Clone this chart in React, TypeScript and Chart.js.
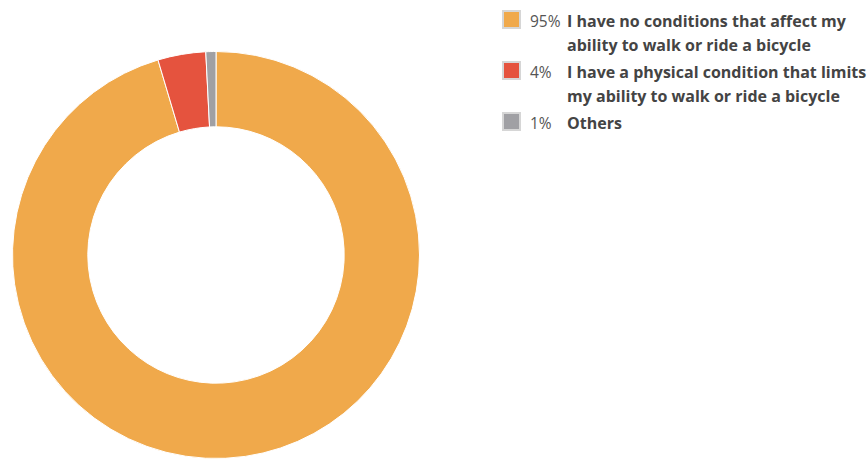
import React, { useEffect, useRef } from "react";
import { Chart, registerables } from "chart.js";

Chart.register(...registerables);

const categories = [
  "I have no conditions that affect my ability to walk or ride a bicycle",
  "I have a physical condition that limits my ability to walk or ride a bicycle",
  "Others",
];
const values = [95.4, 3.8, 0.8];
const percentLabels = ["95%", "4%", "1%"];
const colors = ["#F0A94B", "#E5533E", "#A0A0A4"];

export default function App() {
  const ref = useRef<HTMLCanvasElement | null>(null);

  useEffect(() => {
    if (!ref.current) return;
    const chart = new Chart(ref.current, {
      type: "doughnut",
      data: {
        labels: categories,
        datasets: [
          {
            data: values,
            backgroundColor: colors,
            borderColor: "#ffffff",
            borderWidth: 1,
          },
        ],
      },
      options: {
        responsive: false,
        maintainAspectRatio: false,
        animation: false,
        cutout: "63%",
        layout: { padding: 0 },
        plugins: {
          legend: { display: false },
          tooltip: { enabled: false },
        },
      },
    });
    return () => chart.destroy();
  }, []);

  return (
    <div
      style={{
        position: "fixed",
        left: 0,
        top: 0,
        width: 868,
        height: 462,
        background: "#fff",
        fontFamily: "'Open Sans', sans-serif",
      }}
    >
      <canvas
        ref={ref}
        width={408}
        height={408}
        style={{ position: "absolute", left: 12, top: 51, width: 408, height: 408 }}
      />
      <div style={{ position: "absolute", left: 502, top: 9, width: 366 }}>
        {categories.map((c, i) => (
          <div
            key={i}
            style={{
              display: "flex",
              alignItems: "flex-start",
              marginBottom: 3,
              fontSize: 16,
              lineHeight: "24px",
            }}
          >
            <div
              style={{
                width: 15,
                height: 15,
                marginTop: 1,
                border: "2px solid #d6d6d6",
                background: colors[i],
                flex: "0 0 auto",
              }}
            />
            <div style={{ width: 37, marginLeft: 9, color: "#555", fontSize: 15.5, flex: "0 0 auto" }}>
              {percentLabels[i]}
            </div>
            <div style={{ width: 300, fontWeight: 700, color: "#444" }}>{c}</div>
          </div>
        ))}
      </div>
    </div>
  );
}
